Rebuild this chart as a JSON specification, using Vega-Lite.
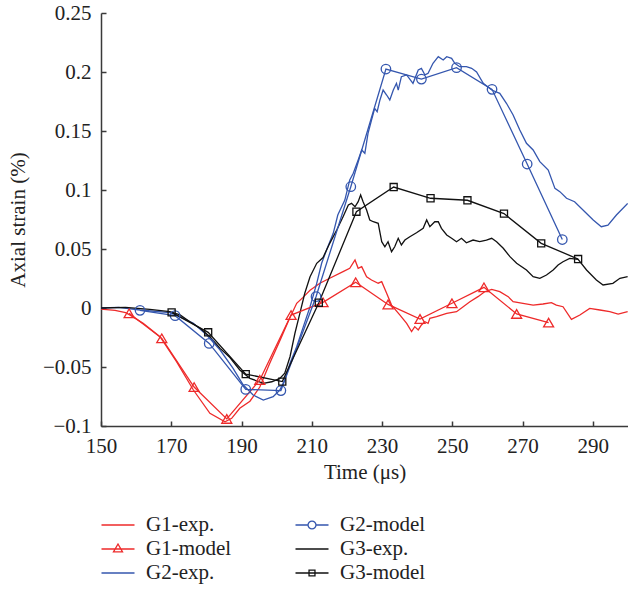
{
  "$schema": "https://vega.github.io/schema/vega-lite/v6.json",
  "width": 527,
  "height": 413,
  "autosize": {"type": "none"},
  "padding": {"left": 101, "top": 13, "right": 0, "bottom": 163},
  "background": "white",
  "config": {
    "view": {"stroke": null},
    "font": "Liberation Serif",
    "axis": {
      "grid": false,
      "labelFlush": false,
      "domainColor": "#3a3a3a",
      "domainWidth": 1.5,
      "tickColor": "#3a3a3a",
      "tickWidth": 1.5,
      "tickSize": -5,
      "labelFont": "Liberation Serif",
      "labelFontSize": 21,
      "labelColor": "#222222",
      "titleFont": "Liberation Serif",
      "titleFontSize": 21,
      "titleFontWeight": "normal",
      "titleColor": "#222222"
    },
    "legend": {
      "orient": "none",
      "legendX": 5,
      "legendY": 500,
      "columns": 2,
      "columnPadding": 60,
      "symbolSize": 484,
      "symbolStrokeWidth": 1.3,
      "symbolOpacity": 1,
      "labelFont": "Liberation Serif",
      "labelFontSize": 21,
      "labelColor": "#222222",
      "labelOffset": 16,
      "title": null
    }
  },
  "datasets": {
    "exp": [
      {"series": "G1-exp.", "t": 150, "v": -0.001},
      {"series": "G1-exp.", "t": 154, "v": -0.002},
      {"series": "G1-exp.", "t": 157, "v": -0.004},
      {"series": "G1-exp.", "t": 158.3, "v": -0.006},
      {"series": "G1-exp.", "t": 162.0, "v": -0.013},
      {"series": "G1-exp.", "t": 166.8, "v": -0.0243},
      {"series": "G1-exp.", "t": 171.5, "v": -0.0455},
      {"series": "G1-exp.", "t": 176.3, "v": -0.0695},
      {"series": "G1-exp.", "t": 181.0, "v": -0.0892},
      {"series": "G1-exp.", "t": 185.3, "v": -0.0964},
      {"series": "G1-exp.", "t": 187.2, "v": -0.0935},
      {"series": "G1-exp.", "t": 189.5, "v": -0.085},
      {"series": "G1-exp.", "t": 192.4, "v": -0.079},
      {"series": "G1-exp.", "t": 195.2, "v": -0.067},
      {"series": "G1-exp.", "t": 198.0, "v": -0.047},
      {"series": "G1-exp.", "t": 201.0, "v": -0.027},
      {"series": "G1-exp.", "t": 203.5, "v": -0.01},
      {"series": "G1-exp.", "t": 205.7, "v": 0.004},
      {"series": "G1-exp.", "t": 207.5, "v": 0.009},
      {"series": "G1-exp.", "t": 209.5, "v": 0.015},
      {"series": "G1-exp.", "t": 212.3, "v": 0.021},
      {"series": "G1-exp.", "t": 215.1, "v": 0.0252},
      {"series": "G1-exp.", "t": 218.9, "v": 0.0308},
      {"series": "G1-exp.", "t": 220.8, "v": 0.0336},
      {"series": "G1-exp.", "t": 222.3, "v": 0.0407},
      {"series": "G1-exp.", "t": 223.2, "v": 0.0336},
      {"series": "G1-exp.", "t": 224.2, "v": 0.035},
      {"series": "G1-exp.", "t": 225.6, "v": 0.0265},
      {"series": "G1-exp.", "t": 227.0, "v": 0.0237},
      {"series": "G1-exp.", "t": 228.9, "v": 0.021},
      {"series": "G1-exp.", "t": 229.9, "v": 0.0223},
      {"series": "G1-exp.", "t": 231.3, "v": 0.0125},
      {"series": "G1-exp.", "t": 232.7, "v": 0.0025},
      {"series": "G1-exp.", "t": 235.1, "v": -0.006},
      {"series": "G1-exp.", "t": 237.0, "v": -0.013},
      {"series": "G1-exp.", "t": 238.4, "v": -0.02},
      {"series": "G1-exp.", "t": 239.3, "v": -0.0158},
      {"series": "G1-exp.", "t": 240.3, "v": -0.0186},
      {"series": "G1-exp.", "t": 241.2, "v": -0.0144},
      {"series": "G1-exp.", "t": 242.2, "v": -0.0116},
      {"series": "G1-exp.", "t": 243.1, "v": -0.013},
      {"series": "G1-exp.", "t": 243.6, "v": -0.0087},
      {"series": "G1-exp.", "t": 245.5, "v": -0.0074},
      {"series": "G1-exp.", "t": 248.4, "v": -0.0045},
      {"series": "G1-exp.", "t": 251.2, "v": -0.0031},
      {"series": "G1-exp.", "t": 253.1, "v": 0.0011},
      {"series": "G1-exp.", "t": 255.0, "v": 0.0053},
      {"series": "G1-exp.", "t": 257.3, "v": 0.0096},
      {"series": "G1-exp.", "t": 259.2, "v": 0.0138},
      {"series": "G1-exp.", "t": 261.2, "v": 0.0158},
      {"series": "G1-exp.", "t": 263.5, "v": 0.0138},
      {"series": "G1-exp.", "t": 265.9, "v": 0.0096},
      {"series": "G1-exp.", "t": 267.3, "v": 0.0053},
      {"series": "G1-exp.", "t": 270.1, "v": 0.004},
      {"series": "G1-exp.", "t": 273.0, "v": 0.0025},
      {"series": "G1-exp.", "t": 275.8, "v": 0.0034},
      {"series": "G1-exp.", "t": 278.2, "v": 0.0045},
      {"series": "G1-exp.", "t": 279.6, "v": 0.0025},
      {"series": "G1-exp.", "t": 281.5, "v": 0.0011},
      {"series": "G1-exp.", "t": 283.9, "v": -0.0096},
      {"series": "G1-exp.", "t": 286.3, "v": -0.0059},
      {"series": "G1-exp.", "t": 289.1, "v": -0.0003},
      {"series": "G1-exp.", "t": 292.0, "v": -0.0017},
      {"series": "G1-exp.", "t": 294.8, "v": -0.0031},
      {"series": "G1-exp.", "t": 297.2, "v": -0.0051},
      {"series": "G1-exp.", "t": 299.9, "v": -0.0031},

      {"series": "G2-exp.", "t": 150, "v": 0},
      {"series": "G2-exp.", "t": 155, "v": 0.0005},
      {"series": "G2-exp.", "t": 161.1, "v": -0.0017},
      {"series": "G2-exp.", "t": 169.6, "v": -0.004},
      {"series": "G2-exp.", "t": 171.5, "v": -0.006},
      {"series": "G2-exp.", "t": 176.3, "v": -0.013},
      {"series": "G2-exp.", "t": 180.1, "v": -0.0229},
      {"series": "G2-exp.", "t": 183.9, "v": -0.0356},
      {"series": "G2-exp.", "t": 187.6, "v": -0.0511},
      {"series": "G2-exp.", "t": 190.5, "v": -0.0653},
      {"series": "G2-exp.", "t": 193.3, "v": -0.0737},
      {"series": "G2-exp.", "t": 196.2, "v": -0.078},
      {"series": "G2-exp.", "t": 199.0, "v": -0.0752},
      {"series": "G2-exp.", "t": 200.9, "v": -0.0695},
      {"series": "G2-exp.", "t": 202.3, "v": -0.061},
      {"series": "G2-exp.", "t": 203.8, "v": -0.0469},
      {"series": "G2-exp.", "t": 205.7, "v": -0.0328},
      {"series": "G2-exp.", "t": 207.6, "v": -0.0158},
      {"series": "G2-exp.", "t": 209.5, "v": 0.0011},
      {"series": "G2-exp.", "t": 211.4, "v": 0.0209},
      {"series": "G2-exp.", "t": 212.8, "v": 0.0379},
      {"series": "G2-exp.", "t": 214.2, "v": 0.0492},
      {"series": "G2-exp.", "t": 216.1, "v": 0.0633},
      {"series": "G2-exp.", "t": 217.4, "v": 0.0788},
      {"series": "G2-exp.", "t": 219.4, "v": 0.0915},
      {"series": "G2-exp.", "t": 220.8, "v": 0.1085},
      {"series": "G2-exp.", "t": 221.8, "v": 0.1142},
      {"series": "G2-exp.", "t": 223.2, "v": 0.1254},
      {"series": "G2-exp.", "t": 224.2, "v": 0.1339},
      {"series": "G2-exp.", "t": 225.1, "v": 0.1311},
      {"series": "G2-exp.", "t": 226.0, "v": 0.148},
      {"series": "G2-exp.", "t": 227.0, "v": 0.1593},
      {"series": "G2-exp.", "t": 227.9, "v": 0.1692},
      {"series": "G2-exp.", "t": 228.6, "v": 0.1664},
      {"series": "G2-exp.", "t": 229.4, "v": 0.1763},
      {"series": "G2-exp.", "t": 230.3, "v": 0.1847},
      {"series": "G2-exp.", "t": 231.3, "v": 0.1805},
      {"series": "G2-exp.", "t": 232.2, "v": 0.1763},
      {"series": "G2-exp.", "t": 233.2, "v": 0.1847},
      {"series": "G2-exp.", "t": 234.1, "v": 0.1904},
      {"series": "G2-exp.", "t": 234.6, "v": 0.1847},
      {"series": "G2-exp.", "t": 235.5, "v": 0.196},
      {"series": "G2-exp.", "t": 237.0, "v": 0.1975},
      {"series": "G2-exp.", "t": 238.8, "v": 0.1904},
      {"series": "G2-exp.", "t": 240.3, "v": 0.2017},
      {"series": "G2-exp.", "t": 241.2, "v": 0.2031},
      {"series": "G2-exp.", "t": 242.2, "v": 0.1975},
      {"series": "G2-exp.", "t": 243.1, "v": 0.1989},
      {"series": "G2-exp.", "t": 244.5, "v": 0.2074},
      {"series": "G2-exp.", "t": 246.0, "v": 0.213},
      {"series": "G2-exp.", "t": 247.4, "v": 0.2102},
      {"series": "G2-exp.", "t": 248.4, "v": 0.213},
      {"series": "G2-exp.", "t": 249.8, "v": 0.2116},
      {"series": "G2-exp.", "t": 250.7, "v": 0.2074},
      {"series": "G2-exp.", "t": 252.1, "v": 0.2045},
      {"series": "G2-exp.", "t": 254.0, "v": 0.2045},
      {"series": "G2-exp.", "t": 255.5, "v": 0.2031},
      {"series": "G2-exp.", "t": 256.9, "v": 0.2},
      {"series": "G2-exp.", "t": 258.8, "v": 0.1904},
      {"series": "G2-exp.", "t": 261.2, "v": 0.1847},
      {"series": "G2-exp.", "t": 263.5, "v": 0.1819},
      {"series": "G2-exp.", "t": 265.4, "v": 0.1735},
      {"series": "G2-exp.", "t": 267.3, "v": 0.1636},
      {"series": "G2-exp.", "t": 269.2, "v": 0.1508},
      {"series": "G2-exp.", "t": 271.1, "v": 0.1396},
      {"series": "G2-exp.", "t": 273.0, "v": 0.1339},
      {"series": "G2-exp.", "t": 274.9, "v": 0.124},
      {"series": "G2-exp.", "t": 277.3, "v": 0.1169},
      {"series": "G2-exp.", "t": 279.2, "v": 0.1014},
      {"series": "G2-exp.", "t": 280.6, "v": 0.0986},
      {"series": "G2-exp.", "t": 282.5, "v": 0.093},
      {"series": "G2-exp.", "t": 284.8, "v": 0.0901},
      {"series": "G2-exp.", "t": 287.7, "v": 0.0816},
      {"series": "G2-exp.", "t": 290.1, "v": 0.0746},
      {"series": "G2-exp.", "t": 292.4, "v": 0.0689},
      {"series": "G2-exp.", "t": 294.3, "v": 0.0703},
      {"series": "G2-exp.", "t": 296.7, "v": 0.0788},
      {"series": "G2-exp.", "t": 299.9, "v": 0.0887},

      {"series": "G3-exp.", "t": 150, "v": 0},
      {"series": "G3-exp.", "t": 157, "v": 0.0005},
      {"series": "G3-exp.", "t": 163.9, "v": -0.0011},
      {"series": "G3-exp.", "t": 169.6, "v": -0.0031},
      {"series": "G3-exp.", "t": 172.5, "v": -0.0059},
      {"series": "G3-exp.", "t": 175.3, "v": -0.0116},
      {"series": "G3-exp.", "t": 178.2, "v": -0.0172},
      {"series": "G3-exp.", "t": 181.0, "v": -0.0243},
      {"series": "G3-exp.", "t": 183.9, "v": -0.0342},
      {"series": "G3-exp.", "t": 186.7, "v": -0.042},
      {"series": "G3-exp.", "t": 189.5, "v": -0.0525},
      {"series": "G3-exp.", "t": 192.4, "v": -0.0596},
      {"series": "G3-exp.", "t": 196.2, "v": -0.0638},
      {"series": "G3-exp.", "t": 198.6, "v": -0.0625},
      {"series": "G3-exp.", "t": 200.9, "v": -0.0596},
      {"series": "G3-exp.", "t": 202.3, "v": -0.0553},
      {"series": "G3-exp.", "t": 203.8, "v": -0.0413},
      {"series": "G3-exp.", "t": 205.2, "v": -0.0214},
      {"series": "G3-exp.", "t": 206.6, "v": -0.0045},
      {"series": "G3-exp.", "t": 208.0, "v": 0.0125},
      {"series": "G3-exp.", "t": 209.5, "v": 0.0265},
      {"series": "G3-exp.", "t": 211.4, "v": 0.0379},
      {"series": "G3-exp.", "t": 213.2, "v": 0.0428},
      {"series": "G3-exp.", "t": 215.1, "v": 0.0548},
      {"series": "G3-exp.", "t": 217.1, "v": 0.0661},
      {"series": "G3-exp.", "t": 218.9, "v": 0.0774},
      {"series": "G3-exp.", "t": 220.4, "v": 0.0873},
      {"series": "G3-exp.", "t": 221.3, "v": 0.0887},
      {"series": "G3-exp.", "t": 222.3, "v": 0.0858},
      {"series": "G3-exp.", "t": 223.2, "v": 0.0901},
      {"series": "G3-exp.", "t": 223.9, "v": 0.0958},
      {"series": "G3-exp.", "t": 224.6, "v": 0.0901},
      {"series": "G3-exp.", "t": 225.6, "v": 0.0831},
      {"series": "G3-exp.", "t": 226.5, "v": 0.0746},
      {"series": "G3-exp.", "t": 227.5, "v": 0.0731},
      {"series": "G3-exp.", "t": 228.9, "v": 0.0718},
      {"series": "G3-exp.", "t": 229.9, "v": 0.0562},
      {"series": "G3-exp.", "t": 230.8, "v": 0.0519},
      {"series": "G3-exp.", "t": 231.7, "v": 0.0562},
      {"series": "G3-exp.", "t": 232.7, "v": 0.0477},
      {"series": "G3-exp.", "t": 233.6, "v": 0.0519},
      {"series": "G3-exp.", "t": 234.6, "v": 0.0591},
      {"series": "G3-exp.", "t": 235.5, "v": 0.0534},
      {"series": "G3-exp.", "t": 236.5, "v": 0.0576},
      {"series": "G3-exp.", "t": 237.9, "v": 0.0604},
      {"series": "G3-exp.", "t": 239.8, "v": 0.0638},
      {"series": "G3-exp.", "t": 241.7, "v": 0.0675},
      {"series": "G3-exp.", "t": 242.7, "v": 0.0746},
      {"series": "G3-exp.", "t": 243.6, "v": 0.0689},
      {"series": "G3-exp.", "t": 245.0, "v": 0.0731},
      {"series": "G3-exp.", "t": 246.0, "v": 0.0731},
      {"series": "G3-exp.", "t": 246.9, "v": 0.0675},
      {"series": "G3-exp.", "t": 248.4, "v": 0.0619},
      {"series": "G3-exp.", "t": 249.8, "v": 0.0591},
      {"series": "G3-exp.", "t": 251.2, "v": 0.0562},
      {"series": "G3-exp.", "t": 252.6, "v": 0.0591},
      {"series": "G3-exp.", "t": 254.0, "v": 0.0553},
      {"series": "G3-exp.", "t": 255.9, "v": 0.0576},
      {"series": "G3-exp.", "t": 257.8, "v": 0.0562},
      {"series": "G3-exp.", "t": 259.7, "v": 0.0576},
      {"series": "G3-exp.", "t": 261.2, "v": 0.0591},
      {"series": "G3-exp.", "t": 262.6, "v": 0.0562},
      {"series": "G3-exp.", "t": 264.5, "v": 0.0506},
      {"series": "G3-exp.", "t": 266.4, "v": 0.0435},
      {"series": "G3-exp.", "t": 268.3, "v": 0.0379},
      {"series": "G3-exp.", "t": 271.1, "v": 0.0322},
      {"series": "G3-exp.", "t": 273.0, "v": 0.0265},
      {"series": "G3-exp.", "t": 274.9, "v": 0.0252},
      {"series": "G3-exp.", "t": 276.8, "v": 0.028},
      {"series": "G3-exp.", "t": 278.7, "v": 0.0322},
      {"series": "G3-exp.", "t": 280.1, "v": 0.0364},
      {"series": "G3-exp.", "t": 281.5, "v": 0.0392},
      {"series": "G3-exp.", "t": 283.4, "v": 0.0421},
      {"series": "G3-exp.", "t": 285.8, "v": 0.0413},
      {"series": "G3-exp.", "t": 288.2, "v": 0.0322},
      {"series": "G3-exp.", "t": 291.0, "v": 0.0237},
      {"series": "G3-exp.", "t": 292.9, "v": 0.0195},
      {"series": "G3-exp.", "t": 295.7, "v": 0.0209},
      {"series": "G3-exp.", "t": 297.7, "v": 0.0252},
      {"series": "G3-exp.", "t": 299.9, "v": 0.0265}
    ],
    "model": [
      {"series": "G1-model", "t": 158.0, "v": -0.0045},
      {"series": "G1-model", "t": 167.3, "v": -0.0257},
      {"series": "G1-model", "t": 176.5, "v": -0.067},
      {"series": "G1-model", "t": 185.8, "v": -0.094},
      {"series": "G1-model", "t": 195.2, "v": -0.061},
      {"series": "G1-model", "t": 204.1, "v": -0.006},
      {"series": "G1-model", "t": 213.2, "v": 0.0048},
      {"series": "G1-model", "t": 222.5, "v": 0.0218},
      {"series": "G1-model", "t": 231.7, "v": 0.003},
      {"series": "G1-model", "t": 240.8, "v": -0.0093},
      {"series": "G1-model", "t": 249.9, "v": 0.004},
      {"series": "G1-model", "t": 259.0, "v": 0.0175},
      {"series": "G1-model", "t": 268.3, "v": -0.005},
      {"series": "G1-model", "t": 277.4, "v": -0.0124},

      {"series": "G2-model", "t": 161.1, "v": -0.002},
      {"series": "G2-model", "t": 171.1, "v": -0.0065},
      {"series": "G2-model", "t": 180.8, "v": -0.03},
      {"series": "G2-model", "t": 191.2, "v": -0.069},
      {"series": "G2-model", "t": 201.2, "v": -0.07},
      {"series": "G2-model", "t": 211.2, "v": 0.0096},
      {"series": "G2-model", "t": 221.1, "v": 0.1028},
      {"series": "G2-model", "t": 231.1, "v": 0.2025},
      {"series": "G2-model", "t": 241.2, "v": 0.194},
      {"series": "G2-model", "t": 251.2, "v": 0.2037},
      {"series": "G2-model", "t": 261.3, "v": 0.1853},
      {"series": "G2-model", "t": 271.3, "v": 0.122},
      {"series": "G2-model", "t": 281.3, "v": 0.058},

      {"series": "G3-model", "t": 170.1, "v": -0.0037},
      {"series": "G3-model", "t": 180.5, "v": -0.0206},
      {"series": "G3-model", "t": 191.2, "v": -0.056},
      {"series": "G3-model", "t": 201.6, "v": -0.0624},
      {"series": "G3-model", "t": 212.0, "v": 0.0045},
      {"series": "G3-model", "t": 222.7, "v": 0.0816},
      {"series": "G3-model", "t": 233.3, "v": 0.1025},
      {"series": "G3-model", "t": 243.8, "v": 0.093},
      {"series": "G3-model", "t": 254.3, "v": 0.0913},
      {"series": "G3-model", "t": 264.7, "v": 0.08},
      {"series": "G3-model", "t": 275.3, "v": 0.0548},
      {"series": "G3-model", "t": 285.8, "v": 0.0415}
    ]
  },
  "encoding": {
    "x": {
      "field": "t",
      "type": "quantitative",
      "scale": {"domain": [150, 300], "nice": false, "zero": false},
      "axis": {
        "values": [150, 170, 190, 210, 230, 250, 270, 290],
        "labelPadding": 14,
        "title": "Time (μs)",
        "titlePadding": 5
      }
    },
    "y": {
      "field": "v",
      "type": "quantitative",
      "scale": {"domain": [-0.1, 0.25], "nice": false, "zero": false},
      "axis": {
        "values": [-0.1, -0.05, 0, 0.05, 0.1, 0.15, 0.2, 0.25],
        "format": "~g",
        "labelPadding": 15,
        "title": "Axial strain (%)",
        "titlePadding": 14
      }
    },
    "color": {
      "field": "series",
      "type": "nominal",
      "scale": {
        "domain": ["G1-exp.", "G1-model", "G2-exp.", "G2-model", "G3-exp.", "G3-model"],
        "range": ["#ee2a2a", "#ee2a2a", "#3456ae", "#3456ae", "#111111", "#111111"]
      }
    }
  },
  "layer": [
    {
      "data": {"name": "exp"},
      "mark": {"type": "line", "strokeWidth": 1.3}
    },
    {
      "data": {"name": "model"},
      "mark": {"type": "line", "strokeWidth": 1.3}
    },
    {
      "data": {"name": "model"},
      "transform": [{"filter": "datum.series === 'G1-model'"}],
      "mark": {"type": "point", "shape": "triangle-up", "size": 100, "filled": false, "strokeWidth": 1.3, "opacity": 1}
    },
    {
      "data": {"name": "model"},
      "transform": [{"filter": "datum.series === 'G2-model'"}],
      "mark": {"type": "point", "shape": "circle", "size": 90, "filled": false, "strokeWidth": 1.3, "opacity": 1}
    },
    {
      "data": {"name": "model"},
      "transform": [{"filter": "datum.series === 'G3-model'"}],
      "mark": {"type": "point", "shape": "square", "size": 50, "filled": false, "strokeWidth": 1.3, "opacity": 1}
    },
    {
      "data": {"name": "model"},
      "mark": {"type": "point", "filled": false, "strokeWidth": 1.3, "opacity": 0},
      "encoding": {
        "shape": {
          "field": "series",
          "type": "nominal",
          "scale": {
            "domain": ["G1-exp.", "G1-model", "G2-exp.", "G2-model", "G3-exp.", "G3-model"],
            "range": [
              "M-1.5,0L1.5,0",
              "M-1.5,0L1.5,0M0,-0.45L0.41,0.27L-0.41,0.27Z",
              "M-1.5,0L1.5,0",
              "M-1.5,0L-0.36,0M0.36,0L1.5,0M0.36,0A0.36,0.36,0,1,1,-0.36,0A0.36,0.36,0,1,1,0.36,0Z",
              "M-1.5,0L1.5,0",
              "M-1.5,0L1.5,0M-0.27,-0.27L0.27,-0.27L0.27,0.27L-0.27,0.27Z"
            ]
          }
        }
      }
    }
  ]
}
